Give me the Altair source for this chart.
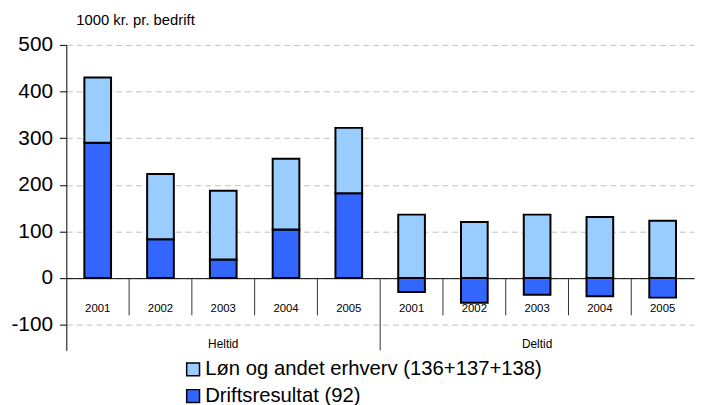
import altair as alt
import pandas as pd

groups = ["Heltid"] * 5 + ["Deltid"] * 5
years = ["2001", "2002", "2003", "2004", "2005"] * 2
drift = [290, 83, 40, 104, 182, -30, -53, -36, -39, -42]
lon = [140, 140, 147, 152, 140, 136, 120, 136, 131, 123]

series_lon = "Løn og andet erhverv (136+137+138)"
series_drift = "Driftsresultat (92)"

keys = [g + "|" + y for g, y in zip(groups, years)]

rows = []
for k, d, l in zip(keys, drift, lon):
    rows.append({"key": k, "series": series_drift, "value": d, "ord": 0})
    rows.append({"key": k, "series": series_lon, "value": l, "ord": 1})
df = pd.DataFrame(rows)

sep_df = pd.DataFrame({"key": [k for k in keys if not k.endswith("2001")]})
grp_sep_df = pd.DataFrame({"key": ["Deltid|2001"]})
grp_df = pd.DataFrame({"key": ["Heltid|2003", "Deltid|2003"], "label": ["Heltid", "Deltid"]})

FONT = "Liberation Sans"
y_min, y_max = -155, 500

xscale = alt.Scale(domain=keys, paddingInner=0, paddingOuter=0)
yscale = alt.Scale(domain=[y_min, y_max], nice=False, zero=False)

x_enc = alt.X(
    "key:N", sort=keys, scale=xscale, title=None,
    axis=alt.Axis(
        labelExpr="split(datum.label, '|')[1]",
        labelAngle=0, ticks=False, offset=-73, domainColor="#000000",
        labelFont=FONT, labelFontSize=11.5, labelColor="#000000",
        labelPadding=25, grid=False,
    ),
)
y_enc = alt.Y(
    "value:Q", scale=yscale, title=None, stack="zero",
    axis=alt.Axis(
        values=[-100, 0, 100, 200, 300, 400, 500], grid=True,
        labelExpr="'' + datum.value",
        gridDash=[6, 4], gridColor="#c0c0c0", gridWidth=1,
        domainColor="#000000", tickColor="#000000", tickSize=7,
        labelFont=FONT, labelFontSize=21, labelColor="#000000", labelPadding=7,
    ),
)

bars = alt.Chart(df).mark_bar(size=27, stroke="#000000", strokeWidth=2).encode(
    x=x_enc,
    y=y_enc,
    color=alt.Color(
        "series:N",
        scale=alt.Scale(domain=[series_lon, series_drift], range=["#99CCFF", "#3366FF"]),
        legend=alt.Legend(title=None),
    ),
    order=alt.Order("ord:Q"),
)

seps = alt.Chart(sep_df).mark_rule(color="#333333", strokeWidth=1).encode(
    x=alt.X("key:N", sort=keys, scale=xscale, bandPosition=0),
    y=alt.datum(0),
    y2=alt.datum(-80),
)

grp_sep = alt.Chart(grp_sep_df).mark_rule(color="#333333", strokeWidth=1).encode(
    x=alt.X("key:N", sort=keys, scale=xscale, bandPosition=0),
    y=alt.datum(0),
    y2=alt.datum(y_min),
)

grp_text = alt.Chart(grp_df).mark_text(font=FONT, fontSize=12, color="#000000", baseline="middle").encode(
    x=alt.X("key:N", sort=keys, scale=xscale),
    y=alt.datum(-141),
    text="label:N",
)

chart = alt.layer(bars, seps, grp_sep, grp_text).properties(
    width=635,
    height=309,
    autosize=alt.AutoSizeParams(type="none"),
    padding={"left": 59, "top": 35, "right": 3, "bottom": 53},
    title=alt.TitleParams(
        "1000 kr. pr. bedrift", anchor="start", frame="group", dx=10,
        font=FONT, fontSize=15, fontWeight="normal", color="#000000", offset=6,
    ),
).configure_view(stroke=None).configure_legend(
    orient="none", legendX=118, legendY=318, direction="vertical",
    labelFont=FONT, labelFontSize=20.5, labelColor="#000000", labelLimit=500,
    symbolType="square", symbolSize=169, symbolStrokeColor="#000000",
    symbolStrokeWidth=1.5, symbolOpacity=1, labelOffset=2, rowPadding=6,
)

chart.save("out.html", embed_options={"renderer": "svg", "actions": False})
